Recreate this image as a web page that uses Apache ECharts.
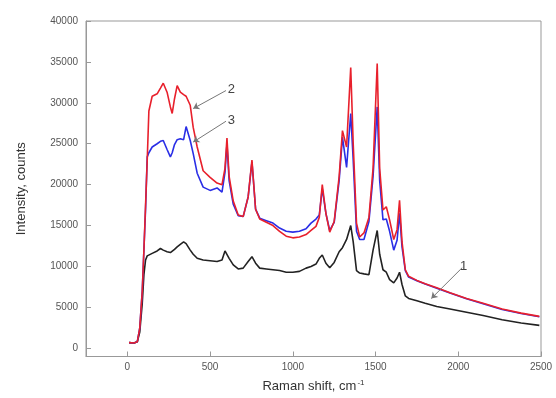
<!DOCTYPE html>
<html>
<head>
<meta charset="utf-8">
<script src="https://cdn.jsdelivr.net/npm/echarts@6/dist/echarts.min.js"></script>
<style>
  html, body { margin: 0; padding: 0; background: #fff; }
  #chart { width: 556px; height: 398px; }
</style>
</head>
<body>
<div id="chart"></div>
<script>
// Raman spectra, curves 1 (black), 2 (red), 3 (blue)
const ramanShift = [10, 40, 60, 75, 90, 100, 110, 120, 130, 150, 180, 200, 217, 240, 260, 271, 285, 301, 320, 340,
  355, 380, 398, 422, 458, 500, 542, 572, 590, 602, 615, 640, 670, 700, 730, 753, 775, 800, 840, 880,
  920, 960, 1000, 1040, 1080, 1110, 1140, 1160, 1178, 1200, 1223, 1250, 1280, 1300, 1325, 1350, 1365, 1385, 1404, 1430,
  1460, 1485, 1510, 1525, 1545, 1565, 1585, 1610, 1630, 1645, 1660, 1680, 1700, 1750, 1800, 1870, 1950, 2050, 2150, 2265,
  2380, 2490];

const curve1 = [700, 650, 800, 2000, 5500, 9000, 10800, 11300, 11400, 11600, 11900, 12200, 12000, 11800, 11700, 11800, 12100, 12400, 12700, 13000,
  12800, 12000, 11500, 11000, 10800, 10700, 10600, 10800, 11900, 11700, 11000, 10200, 9700, 9800, 10600, 11200, 10400, 9800, 9700, 9600,
  9500, 9300, 9300, 9400, 9800, 10000, 10300, 11000, 11400, 10400, 9850, 10500, 11800, 12300, 13300, 15000, 13000, 9500, 9200, 9100,
  9000, 12000, 14400, 11500, 9600, 9300, 8400, 8000, 8600, 9300, 7800, 6400, 6100, 5800, 5500, 5100, 4800, 4400, 4000, 3500,
  3100, 2800];

const curve2 = [700, 650, 800, 2500, 7000, 12000, 17500, 23000, 29000, 30800, 31100, 31800, 32400, 31300, 29500, 28700, 30500, 32100, 31300, 31000,
  30800, 29700, 27000, 24600, 21700, 20900, 20200, 20000, 22000, 25700, 21000, 18000, 16300, 16100, 18500, 23000, 17000, 15800, 15400, 15000,
  14300, 13700, 13500, 13600, 13900, 14400, 14900, 16000, 20000, 16500, 14200, 15500, 21000, 26600, 24600, 34300, 25000, 15300, 13600, 14100,
  16000, 22000, 34800, 22000, 16900, 17300, 15700, 13300, 14500, 18100, 13000, 9600, 8800, 8300, 7900, 7400, 6800, 6100, 5500, 4800,
  4300, 3900];

const curve3 = [700, 650, 800, 2500, 7000, 12000, 17000, 23400, 23900, 24600, 25000, 25300, 25400, 24300, 23400, 23900, 24900, 25500, 25600, 25500,
  27100, 25400, 23800, 21400, 19700, 19300, 19600, 19100, 21500, 25000, 20500, 17600, 16200, 16100, 18500, 22800, 17000, 15900, 15600, 15300,
  14700, 14300, 14200, 14300, 14600, 15300, 15800, 16300, 19500, 16500, 14400, 15400, 20500, 25800, 22100, 28700, 23000, 14300, 13300, 13300,
  15500, 21000, 29500, 20500, 15700, 15800, 14300, 12000, 13200, 16500, 12400, 9500, 8700, 8250, 7850, 7350, 6750, 6050, 5450, 4750,
  4250, 3850];

const xTicks = [0, 500, 1000, 1500, 2000, 2500];
const yTicks = [0, 5000, 10000, 15000, 20000, 25000, 30000, 35000, 40000];

// curve number callouts: [label, from (x, y), arrow tip (x, y)]
const callouts = [
  ['2', [596, 31500], [398, 29300]],
  ['3', [596, 27750], [398, 25200]],
  ['1', [2024, 9860], [1837, 6085]]
];

const pairs = ys => ramanShift.map((x, i) => [x, ys[i]]);

const chart = echarts.init(document.getElementById('chart'));
const font = 'Liberation Sans, Arial, sans-serif';
const tickLabel = { color: '#555', fontSize: 10, fontFamily: font, formatter: v => String(v) };

chart.setOption({
  animation: false,
  grid: { left: 86, right: 15, top: 21, bottom: 41, show: true, borderColor: '#999', borderWidth: 1 },
  xAxis: {
    type: 'value', min: -250, max: 2500,
    name: 'Raman shift, cm{sup|-1}',
    nameLocation: 'middle', nameGap: 22,
    nameTextStyle: {
      color: '#333', fontSize: 13, fontFamily: font,
      rich: { sup: { fontSize: 8, verticalAlign: 'top', padding: [0, 0, 8, 1], color: '#333' } }
    },
    axisLine: { onZero: false, lineStyle: { color: '#999' } },
    axisTick: { inside: true, length: 5, lineStyle: { color: '#999' }, customValues: xTicks },
    axisLabel: Object.assign({ margin: 6, customValues: xTicks }, tickLabel),
    splitLine: { show: false }
  },
  yAxis: {
    type: 'value', min: -1000, max: 40000,
    name: 'Intensity, counts',
    nameLocation: 'middle', nameGap: 58,
    nameTextStyle: { color: '#333', fontSize: 13, fontFamily: font },
    axisLine: { onZero: false, lineStyle: { color: '#999' } },
    axisTick: { inside: true, length: 5, lineStyle: { color: '#999' }, customValues: yTicks },
    axisLabel: Object.assign({ margin: 8, customValues: yTicks }, tickLabel),
    splitLine: { show: false }
  },
  series: [
    {
      name: '1', type: 'line', data: pairs(curve1), showSymbol: false,
      lineStyle: { color: '#222', width: 1.6 },
      markLine: {
        silent: true, symbol: ['none', 'arrow'], symbolSize: 6,
        lineStyle: { color: '#777', width: 1, type: 'solid' },
        label: { show: true, position: 'start', color: '#444', fontSize: 13, distance: 2,
          fontFamily: font, formatter: p => p.name },
        data: callouts.map(c => [{ name: c[0], coord: c[1] }, { coord: c[2] }])
      }
    },
    { name: '3', type: 'line', data: pairs(curve3), showSymbol: false, lineStyle: { color: '#2a2ee6', width: 1.6 } },
    { name: '2', type: 'line', data: pairs(curve2), showSymbol: false, lineStyle: { color: '#e8202c', width: 1.6 } }
  ]
});
</script>
</body>
</html>
